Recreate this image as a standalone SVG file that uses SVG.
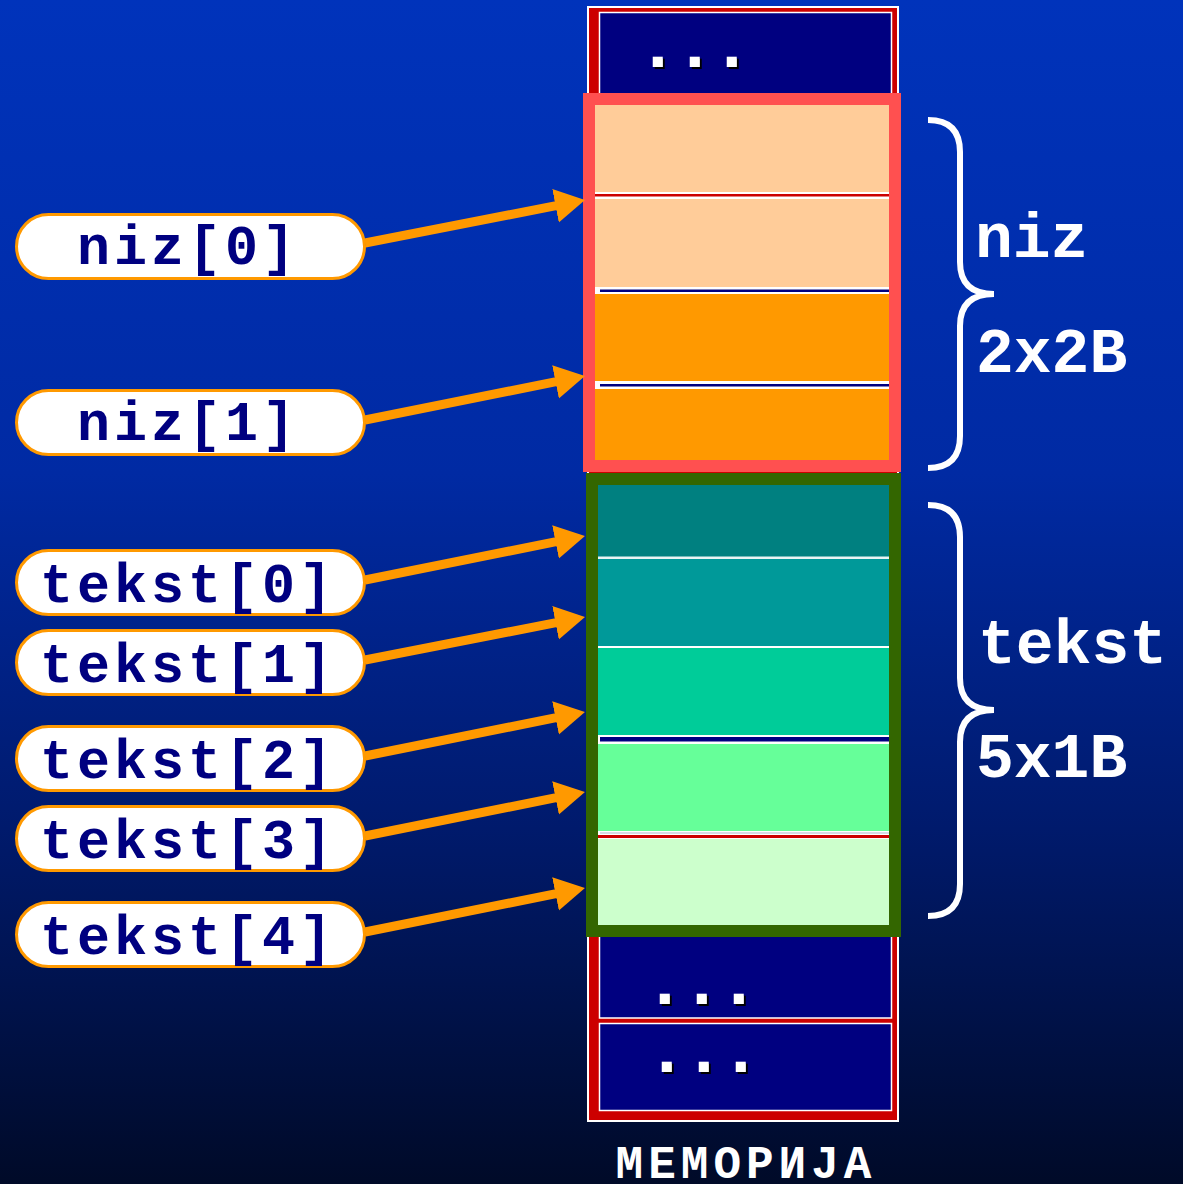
<svg xmlns="http://www.w3.org/2000/svg" width="1183" height="1184" viewBox="0 0 1183 1184">
  <defs>
    <linearGradient id="bg" x1="0" y1="0" x2="0" y2="1">
      <stop offset="0" stop-color="#0033bb"/>
      <stop offset="0.4" stop-color="#002aa3"/>
      <stop offset="0.7" stop-color="#001a6c"/>
      <stop offset="1" stop-color="#000a28"/>
    </linearGradient>
    <marker id="head" markerUnits="userSpaceOnUse" markerWidth="32" markerHeight="36" viewBox="0 0 32 36" refX="2" refY="18" orient="auto">
      <path d="M0,1 L30,18 L0,35 Z" fill="#ff9900"/>
    </marker>
    <filter id="shadow" x="-20%" y="-20%" width="140%" height="140%">
      <feDropShadow dx="2" dy="2" stdDeviation="0" flood-color="#000000" flood-opacity="1"/>
    </filter>
  </defs>
  <style>
    .pill { fill: #ffffff; stroke: #ff9900; stroke-width: 3; }
    .lbl { font-family: "Liberation Mono", "Courier New", monospace; font-weight: bold; font-size: 55px; letter-spacing: 4px; fill: #000080; text-anchor: middle; }
    .side { font-family: "Liberation Mono", "Courier New", monospace; font-weight: bold; font-size: 63px; fill: #ffffff; }
    .arrow { stroke: #ff9900; stroke-width: 9; fill: none; marker-end: url(#head); }
    .brace { stroke: #ffffff; stroke-width: 6; fill: none; }
    .cell { fill: #000080; stroke: #ffffff; stroke-width: 1.5; }
    .dots { font-family: "Liberation Sans", Arial, sans-serif; font-weight: bold; font-size: 56px; letter-spacing: 21.4px; fill: #ffffff; stroke: #ffffff; stroke-width: 2; stroke-linejoin: miter; filter: url(#shadow); }
  </style>

  <rect x="0" y="0" width="1183" height="1184" fill="url(#bg)"/>

  <g id="memory">
    <rect x="588" y="7" width="310" height="1114" fill="#cc0000" stroke="#ffffff" stroke-width="2"/>
    <rect class="cell" x="599.5" y="12.5" width="292" height="120"/>
    <rect class="cell" x="599.5" y="930" width="292" height="88"/>
    <rect class="cell" x="599.5" y="1023.5" width="292" height="87"/>
    <text class="dots" x="650" y="66">...</text>
    <text class="dots" x="657" y="1003">...</text>
    <text class="dots" x="659" y="1071">...</text>
    <text x="746" y="1178" font-family="Liberation Mono, 'Courier New', monospace" font-weight="bold" font-size="46" letter-spacing="5" fill="#ffffff" text-anchor="middle">МЕМОРИЈА</text>
  </g>

  <g id="niz-block">
    <rect x="590" y="100" width="305" height="92" fill="#ffcc99"/>
    <rect x="590" y="192" width="305" height="7" fill="#ffffff"/>
    <rect x="590" y="194" width="305" height="2.5" fill="#cc0000"/>
    <rect x="590" y="199" width="305" height="88" fill="#ffcc99"/>
    <rect x="590" y="287" width="305" height="7" fill="#ffffff"/>
    <rect x="600" y="289.5" width="295" height="2.5" fill="#000080"/>
    <rect x="590" y="294" width="305" height="87" fill="#ff9900"/>
    <rect x="590" y="381" width="305" height="8" fill="#ffffff"/>
    <rect x="600" y="384" width="295" height="2.5" fill="#000080"/>
    <rect x="590" y="389" width="305" height="75" fill="#ff9900"/>
    <rect x="589" y="99" width="306" height="367" fill="none" stroke="#ff5050" stroke-width="12"/>
  </g>

  <g id="tekst-block">
    <rect x="595" y="482" width="297" height="75" fill="#008080"/>
    <rect x="595" y="556.5" width="297" height="2.5" fill="#e8f4f4"/>
    <rect x="595" y="559" width="297" height="87" fill="#009999"/>
    <rect x="595" y="646" width="297" height="2" fill="#ffffff"/>
    <rect x="595" y="648" width="297" height="87" fill="#00cc99"/>
    <rect x="595" y="735" width="297" height="9" fill="#ffffff"/>
    <rect x="600" y="737" width="292" height="4.5" fill="#000080"/>
    <rect x="595" y="744" width="297" height="87" fill="#66ff99"/>
    <rect x="595" y="831" width="297" height="8" fill="#ffffff"/>
    <rect x="600" y="832.5" width="292" height="1" fill="#b0b8d0"/>
    <rect x="595" y="835" width="297" height="3" fill="#cc0000"/>
    <rect x="595" y="839" width="297" height="88" fill="#ccffcc"/>
    <rect x="592" y="479" width="303" height="452" fill="none" stroke="#336600" stroke-width="12"/>
  </g>

  <g id="connectors">
    <line class="arrow" x1="365" y1="243" x2="557.5" y2="205.4"/>
    <line class="arrow" x1="365" y1="420" x2="557.5" y2="381.4"/>
    <line class="arrow" x1="365" y1="580" x2="557.5" y2="541.4"/>
    <line class="arrow" x1="365" y1="660" x2="557.5" y2="622.4"/>
    <line class="arrow" x1="365" y1="756" x2="557.5" y2="717.4"/>
    <line class="arrow" x1="365" y1="836" x2="557.5" y2="797.4"/>
    <line class="arrow" x1="365" y1="932" x2="557.5" y2="893.4"/>
  </g>

  <g id="label-niz0"><rect class="pill" x="16.5" y="214.5" width="348" height="64" rx="32"/><text class="lbl" x="188" y="264">niz[0]</text></g>
  <g id="label-niz1"><rect class="pill" x="16.5" y="390.5" width="348" height="64" rx="32"/><text class="lbl" x="188" y="440">niz[1]</text></g>
  <g id="label-tekst0"><rect class="pill" x="16.5" y="550.5" width="348" height="64" rx="32"/><text class="lbl" x="188" y="602">tekst[0]</text></g>
  <g id="label-tekst1"><rect class="pill" x="16.5" y="630.5" width="348" height="64" rx="32"/><text class="lbl" x="188" y="682">tekst[1]</text></g>
  <g id="label-tekst2"><rect class="pill" x="16.5" y="726.5" width="348" height="64" rx="32"/><text class="lbl" x="188" y="778">tekst[2]</text></g>
  <g id="label-tekst3"><rect class="pill" x="16.5" y="806.5" width="348" height="64" rx="32"/><text class="lbl" x="188" y="858">tekst[3]</text></g>
  <g id="label-tekst4"><rect class="pill" x="16.5" y="902.5" width="348" height="64" rx="32"/><text class="lbl" x="188" y="954">tekst[4]</text></g>

  <g id="brace-niz">
    <path class="brace" d="M928,120 Q960,120 960,152 L960,262 Q960,294 994,294 Q960,294 960,326 L960,436 Q960,468 928,468"/>
    <text class="side" x="975" y="257">niz</text>
    <text class="side" x="976" y="372">2x2B</text>
  </g>
  <g id="brace-tekst">
    <path class="brace" d="M928,505 Q960,505 960,537 L960,678 Q960,710 994,710 Q960,710 960,742 L960,884 Q960,916 928,916"/>
    <text class="side" x="978" y="663">tekst</text>
    <text class="side" x="976" y="777">5x1B</text>
  </g>
</svg>
